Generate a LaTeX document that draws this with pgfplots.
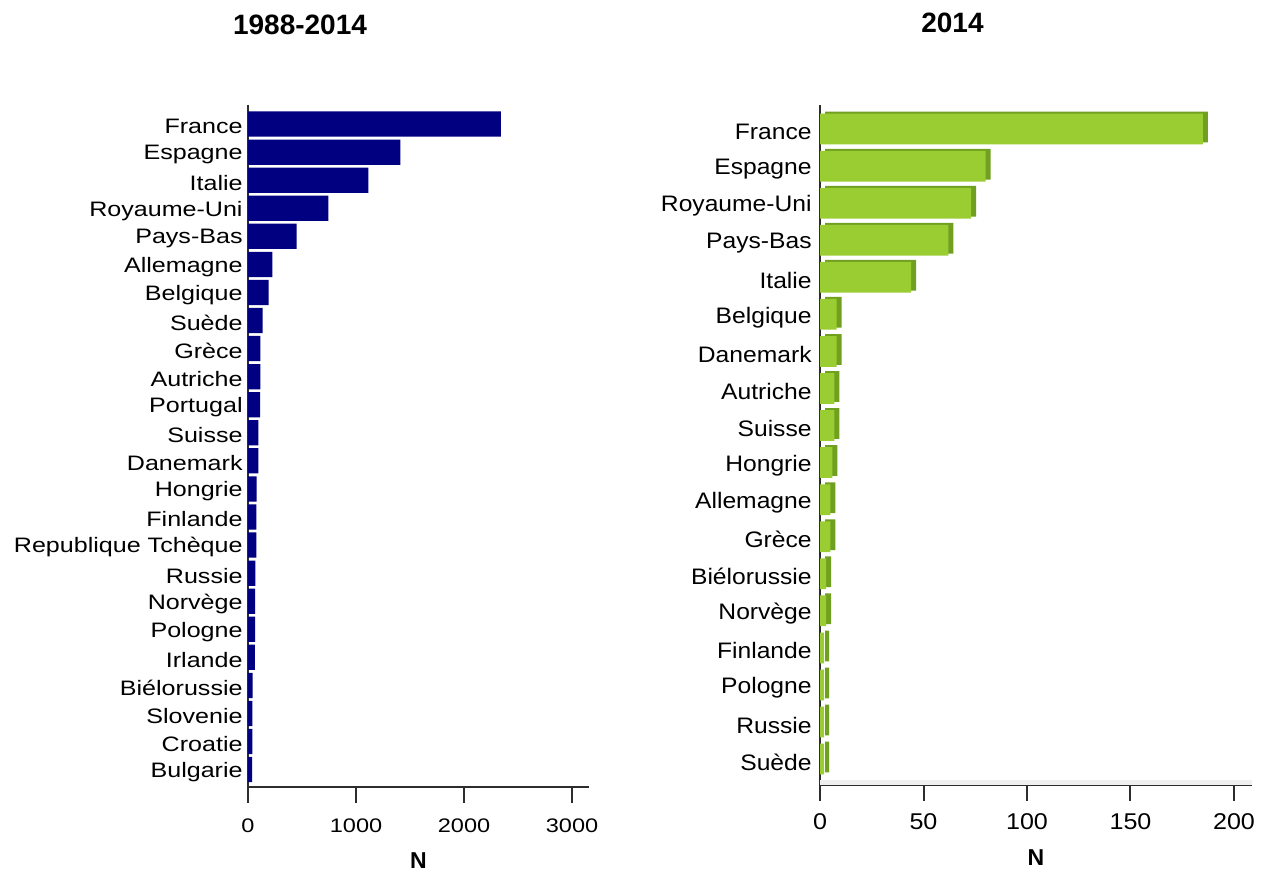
\documentclass[border=0pt]{standalone}
\usepackage{fontspec}
\setmainfont{Liberation Sans}
\newfontfamily\lfont{Liberation Sans}[FakeStretch=1.2]
\newfontfamily\rfont{Liberation Sans}[FakeStretch=1.1]
\usepackage{pgfplots}
\pgfplotsset{compat=1.18}
\definecolor{navybar}{RGB}{0,0,128}
\definecolor{greenbar}{RGB}{154,205,50}
\definecolor{greenside}{RGB}{112,160,32}
\definecolor{axisgray}{RGB}{45,45,45}
\pgfplotsset{
  common/.style={
    scale only axis, xbar, anchor=south west,
    axis x line*=bottom, axis y line*=left,
    axis line style={line width=1pt, draw=axisgray},
    tick align=outside, major tick length=8pt,
    x tick style={line width=1pt, draw=axisgray},
    y tick style={draw=none},
    /pgf/number format/assume math mode=true,
    /pgf/number format/1000 sep={},
    clip=false,
  }
}
\begin{document}
\begin{tikzpicture}
\useasboundingbox (0,0) rectangle (632.5pt,436pt);
\node[font=\bfseries\fontsize{14}{16}\selectfont] at (150pt,423.5pt) {1988-2014};
\node[font=\bfseries\fontsize{14}{16}\selectfont] at (476.25pt,424.5pt) {2014};

\begin{axis}[common,
  at={(124pt,42.5pt)}, width=170.5pt, height=341pt,
  xmin=0, xmax=3157, ymin=-0.62, ymax=23.68,
  xtick={0,1000,2000,3000},
  ytick={0,...,23},
  yticklabels={Bulgarie,Croatie,Slovenie,Biélorussie,Irlande,Pologne,Norvège,Russie,{Republique Tchèque},Finlande,Hongrie,Danemark,Suisse,Portugal,Autriche,Grèce,Suède,Belgique,Allemagne,Pays-Bas,Royaume-Uni,Italie,Espagne,France},
  yticklabel style={font=\lfont\fontsize{10.45}{12}\selectfont, anchor=east, inner sep=0pt, xshift=5.5pt, yshift=-1.2pt},
  xticklabel style={font=\lfont\fontsize{9.8}{12}\selectfont, yshift=-4.5pt},
  xlabel={N},
  xlabel style={font=\bfseries\fontsize{11.5}{13}\selectfont, at={(axis description cs:0.5,0)}, anchor=center, yshift=-37pt},
  bar width=0.9,
]
\addplot[fill=navybar, draw=none, bar shift=0pt] coordinates {
(38,0) (40,1) (40,2) (42,3) (64,4) (65,5) (66,6) (68,7) (78,8) (78,9) (80,10) (95,11) (95,12) (112,13) (115,14) (115,15) (135,16) (190,17) (225,18) (450,19) (745,20) (1115,21) (1410,22) (2340,23)
};
\end{axis}

\begin{axis}[common,
  at={(410pt,43.5pt)}, width=216pt, height=340pt,
  xmin=0, xmax=208.7, ymin=-0.70, ymax=17.65,
  xtick={0,50,100,150,200},
  ytick={0,...,17},
  yticklabels={Suède,Russie,Pologne,Finlande,Norvège,Biélorussie,Grèce,Allemagne,Hongrie,Suisse,Autriche,Danemark,Belgique,Italie,Pays-Bas,Royaume-Uni,Espagne,France},
  yticklabel style={font=\rfont\fontsize{11.2}{13}\selectfont, anchor=east, inner sep=0pt, xshift=4pt, yshift=-1.5pt},
  xticklabel style={font=\rfont\fontsize{11.4}{13}\selectfont, yshift=-3pt},
  xlabel={N},
  xlabel style={font=\bfseries\fontsize{11.5}{13}\selectfont, at={(axis description cs:0.5,0)}, anchor=center, yshift=-36.5pt},
  bar width=0.83,
]
\fill[black!6] (rel axis cs:0,0) rectangle (rel axis cs:1,0.008);
\addplot[fill=greenside, draw=none, bar shift=0pt, xshift=2.5pt, yshift=1pt] coordinates {
(2,0) (2,1) (2,2) (2,3) (3,4) (3,5) (5,6) (5,7) (6,8) (7,9) (7,10) (8,11) (8,12) (44,13) (62,14) (73,15) (80,16) (185,17)
};
\addplot[fill=greenbar, draw=none, bar shift=0pt] coordinates {
(2,0) (2,1) (2,2) (2,3) (3,4) (3,5) (5,6) (5,7) (6,8) (7,9) (7,10) (8,11) (8,12) (44,13) (62,14) (73,15) (80,16) (185,17)
};
\end{axis}
\end{tikzpicture}
\end{document}
